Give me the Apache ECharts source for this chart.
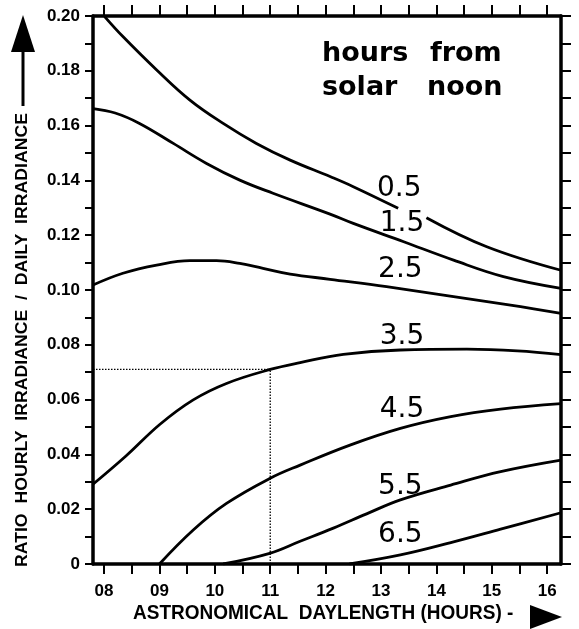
<!DOCTYPE html>
<html>
<head>
<meta charset="utf-8">
<script src="https://cdn.jsdelivr.net/npm/echarts@6/dist/echarts.min.js"></script>
<style>
  html, body { margin: 0; padding: 0; background: #fff; }
  #chart { width: 579px; height: 629px; }
</style>
</head>
<body>
<div id="chart"></div>
<script>
// Axis ticks and labels
const hourLabels = [8, 9, 10, 11, 12, 13, 14, 15, 16];
const halfHourTicks = [8, 8.5, 9, 9.5, 10, 10.5, 11, 11.5, 12, 12.5, 13, 13.5, 14, 14.5, 15, 15.5, 16];
const ratioLabels = [0, 0.02, 0.04, 0.06, 0.08, 0.10, 0.12, 0.14, 0.16, 0.18, 0.20];
const ratioTicks = [0, 0.01, 0.02, 0.03, 0.04, 0.05, 0.06, 0.07, 0.08, 0.09, 0.10,
                    0.11, 0.12, 0.13, 0.14, 0.15, 0.16, 0.17, 0.18, 0.19, 0.20];

// Curves: [astronomical daylength (h), hourly / daily irradiance ratio]
const h05 = [[8.01, 0.1998], [8.34, 0.1925], [8.95, 0.1803], [9.55, 0.1693], [10.15, 0.1608],
             [10.75, 0.1535], [11.36, 0.1474], [12.08, 0.1414], [12.5, 0.1377], [13.31, 0.1298],
             [13.55, '-'],
             [13.82, 0.1264], [14.91, 0.1158], [16.25, 0.1072]];
const h15 = [[7.8, 0.1662], [8.2, 0.1646], [8.64, 0.1608], [9.25, 0.1535], [9.85, 0.1462],
             [10.45, 0.1401], [11.05, 0.1353], [12.08, 0.1277], [12.5, 0.1243], [13.41, 0.1176],
             [14.31, 0.1109], [15.21, 0.1049], [16.25, 0.1006]];
const h25 = [[7.8, 0.1018], [8.34, 0.1061], [8.95, 0.1091], [9.55, 0.1107], [10.03, 0.1107],
             [10.45, 0.1097], [10.87, 0.1079], [11.36, 0.1058], [12.08, 0.1039], [13.1, 0.1012],
             [14.31, 0.0976], [15.52, 0.0939], [16.25, 0.0915]];
const h35 = [[7.8, 0.0291], [8.4, 0.0395], [9.01, 0.0510], [9.61, 0.0599], [10.21, 0.0659],
             [11.0, 0.0710], [11.54, 0.0735], [12.32, 0.0765], [13.35, 0.0781], [14.55, 0.0784],
             [15.46, 0.0778], [16.25, 0.0764]];
const h45 = [[9.0, 0], [9.61, 0.0124], [10.21, 0.0221], [11.0, 0.0313], [11.54, 0.0361],
             [12.44, 0.0434], [13.35, 0.0495], [14.26, 0.0538], [15.16, 0.0565], [16.25, 0.0585]];
const h55 = [[10.15, 0], [10.99, 0.0039], [11.54, 0.0083], [12.14, 0.0131], [12.74, 0.0183],
             [13.35, 0.0234], [14.26, 0.0288], [15.16, 0.0337], [16.25, 0.0379]];
const h65 = [[12.43, 0], [13.35, 0.0033], [14.26, 0.0078], [15.16, 0.0127], [16.25, 0.0187]];

// Curve names and where they are written
const curveNames = ['0.5', '1.5', '2.5', '3.5', '4.5', '5.5', '6.5'];
const curveLabelX = [13.33, 13.38, 13.35, 13.38, 13.38, 13.35, 13.35];
const curveLabelY = [0.137, 0.1243, 0.1073, 0.0830, 0.0562, 0.0282, 0.0106];

// Reading example: 11 h daylength, 3.5 h from noon
const guideX = 11;
const guideY = 0.071;

const xMin = 7.8, xMax = 16.25;
const ink = '#000';
const curveSets = [h05, h15, h25, h35, h45, h55, h65];

const chart = echarts.init(document.getElementById('chart'), null, { renderer: 'canvas' });

const tickFont = { color: ink, fontFamily: 'Liberation Sans', fontWeight: 'bold', fontSize: 17 };

const option = {
  animation: false,
  backgroundColor: '#fff',
  grid: { left: 93, right: 18, top: 16, bottom: 65, containLabel: false },
  xAxis: [
    {
      type: 'value', position: 'bottom', min: xMin, max: xMax,
      axisLine: { show: true, lineStyle: { color: ink, width: 3.5 } },
      axisTick: { show: true, customValues: halfHourTicks, length: 10, inside: false,
                  lineStyle: { color: ink, width: 2 } },
      axisLabel: { show: true, customValues: hourLabels, margin: 19, ...tickFont,
                   formatter: v => (v < 10 ? '0' : '') + Math.round(v) },
      splitLine: { show: false }
    },
    {
      type: 'value', position: 'top', min: xMin, max: xMax,
      axisLine: { show: true, onZero: false, lineStyle: { color: ink, width: 3.5 } },
      axisTick: { show: true, customValues: halfHourTicks, length: 11,
                  lineStyle: { color: ink, width: 2 } },
      axisLabel: { show: false },
      splitLine: { show: false }
    }
  ],
  yAxis: [
    {
      type: 'value', position: 'left', min: 0, max: 0.2,
      axisLine: { show: true, lineStyle: { color: ink, width: 3.5 } },
      axisTick: { show: true, customValues: ratioTicks, length: 8,
                  lineStyle: { color: ink, width: 2 } },
      axisLabel: { show: true, customValues: ratioLabels, margin: 13, ...tickFont,
                   formatter: v => (v === 0 ? '0' : v.toFixed(2)) },
      splitLine: { show: false }
    },
    {
      type: 'value', position: 'right', min: 0, max: 0.2,
      axisLine: { show: true, onZero: false, lineStyle: { color: ink, width: 3.5 } },
      axisTick: { show: true, customValues: ratioTicks, length: 10,
                  lineStyle: { color: ink, width: 2 } },
      axisLabel: { show: false },
      splitLine: { show: false }
    }
  ],
  series: [
    ...curveSets.map((d, i) => ({
      type: 'line', name: curveNames[i], data: d,
      xAxisIndex: 0, yAxisIndex: 0,
      smooth: 0.4, symbol: 'none', clip: true,
      lineStyle: { color: ink, width: 2.8 },
      z: 3
    })),
    {
      type: 'line', name: 'guide-h', data: [[xMin, guideY], [guideX, guideY]],
      symbol: 'none', clip: true,
      lineStyle: { color: ink, width: 1.3, type: [1.5, 1.5] }, z: 2
    },
    {
      type: 'line', name: 'guide-v', data: [[guideX, 0], [guideX, guideY]],
      symbol: 'none', clip: true,
      lineStyle: { color: ink, width: 1.3, type: [1.5, 1.5] }, z: 2
    },
    {
      type: 'scatter', name: 'curve-labels',
      data: curveNames.map((n, i) => ({ name: n, value: [curveLabelX[i], curveLabelY[i]] })),
      symbolSize: 1, itemStyle: { color: 'rgba(0,0,0,0)' },
      label: { show: true, position: 'inside', formatter: '{b}', color: ink, opacity: 1,
               textBorderWidth: 0, fontFamily: 'DejaVu Sans', fontSize: 28 },
      emphasis: { disabled: true },
      z: 5
    }
  ],
  graphic: [
    // legend heading
    { type: 'text', x: 322, y: 54, style: { text: 'hours', fill: ink, font: 'bold 27px "DejaVu Sans"', align: 'left', verticalAlign: 'middle' } },
    { type: 'text', x: 430, y: 54, style: { text: 'from', fill: ink, font: 'bold 27px "DejaVu Sans"', align: 'left', verticalAlign: 'middle' } },
    { type: 'text', x: 322, y: 88, style: { text: 'solar', fill: ink, font: 'bold 27px "DejaVu Sans"', align: 'left', verticalAlign: 'middle' } },
    { type: 'text', x: 427, y: 88, style: { text: 'noon', fill: ink, font: 'bold 27px "DejaVu Sans"', align: 'left', verticalAlign: 'middle' } },
    // y-axis title with arrow
    { type: 'text', x: 22, y: 340, rotation: Math.PI / 2, scaleX: 1.04,
      style: { text: 'RATIO  HOURLY  IRRADIANCE  /  DAILY  IRRADIANCE', fill: ink,
               font: 'bold 17px "Liberation Sans"', align: 'center', verticalAlign: 'middle' } },
    { type: 'line', shape: { x1: 23, y1: 106, x2: 23, y2: 50 }, style: { stroke: ink, lineWidth: 3 } },
    { type: 'polygon', shape: { points: [[23, 15], [11, 52], [35, 52]] }, style: { fill: ink } },
    // x-axis title with arrow
    { type: 'text', x: 133, y: 613, scaleX: 0.95,
      style: { text: 'ASTRONOMICAL  DAYLENGTH (HOURS) -', fill: ink,
               font: 'bold 20px "Liberation Sans"', align: 'left', verticalAlign: 'middle' } },
    { type: 'polygon', shape: { points: [[562, 617], [530, 605], [530, 629]] }, style: { fill: ink } }
  ]
};

chart.setOption(option);
</script>
</body>
</html>
